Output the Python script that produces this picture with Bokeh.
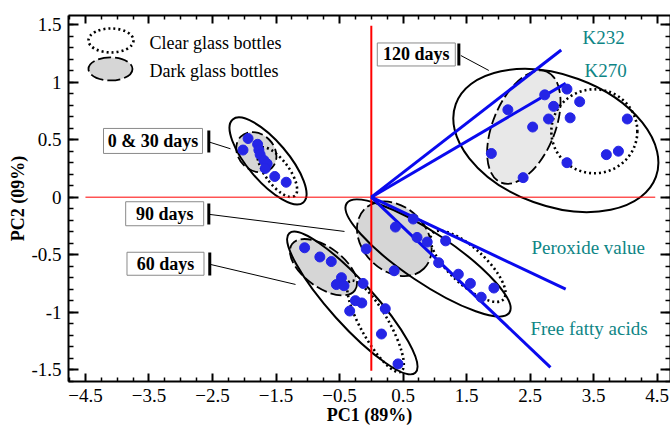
from bokeh.plotting import figure
from bokeh.models import LinearAxis, FixedTicker, CustomJSTickFormatter
from bokeh.core.properties import value
from bokeh.embed import file_html
from bokeh.resources import INLINE

# ---------------- data (PCA scores) ----------------
days_0_30_pc1 = [-1.94, -2.02, -1.79, -1.77, -1.75, -1.69, -1.64, -1.67, -1.52, -1.34]
days_0_30_pc2 = [0.51, 0.41, 0.46, 0.41, 0.37, 0.32, 0.29, 0.25, 0.18, 0.13]
days_60_pc1 = [-1.05, -0.81, -0.63, -0.47, -0.55, -0.43, -0.13, -0.25, -0.15, -0.34, 0.22, 0.16, 0.42]
days_60_pc2 = [-0.44, -0.52, -0.56, -0.70, -0.76, -0.77, -0.75, -0.90, -0.92, -0.99, -0.97, -1.19, -1.45]
days_90_pc1 = [0.38, 0.66, 0.72, 0.88, -0.08, 0.36, 1.17, 1.06, 1.37, 1.56, 1.73, 1.93]
days_90_pc2 = [-0.26, -0.19, -0.35, -0.39, -0.45, -0.64, -0.38, -0.57, -0.67, -0.75, -0.87, -0.79]
days_120_pc1 = [2.15, 1.89, 2.39, 2.54, 2.73, 2.79, 2.87, 3.08, 3.28, 3.13, 3.08, 4.03, 3.70, 3.89]
days_120_pc2 = [0.76, 0.38, 0.17, 0.61, 0.89, 0.68, 0.79, 0.94, 0.83, 0.69, 0.30, 0.68, 0.37, 0.40]

# loadings
loading_names = ["K232", "K270", "Peroxide value", "Free fatty acids"]
loading_pc1 = [2.99, 3.06, 3.06, 2.82]
loading_pc2 = [1.28, 0.99, -0.80, -1.48]

# group labels
group_labels = ["0 & 30 days", "90 days", "60 days", "120 days"]
legend_labels = ["Clear glass bottles", "Dark glass bottles"]

# ticks
x_major = [-4.5, -3.5, -2.5, -1.5, -0.5, 0.5, 1.5, 2.5, 3.5, 4.5]
y_major = [-1.5, -1.0, -0.5, 0.0, 0.5, 1.0, 1.5]
y_tick_labels = ["-1.5", "-1", "-0.5", "0", "0.5", "1", "1.5"]

# ---------------- figure ----------------
FONT = "Liberation Serif"
p = figure(width=670, height=427, x_range=(-4.767, 4.710), y_range=(-1.603, 1.580),
           output_backend="svg", toolbar_location=None,
           min_border_left=68, min_border_right=0, min_border_top=15, min_border_bottom=46)
p.grid.visible = False
p.outline_line_color = None

x_minor = [round(-4.75 + 0.25 * i, 2) for i in range(39)]
x_minor = [t for t in x_minor if t not in x_major]
y_minor = [round(-1.6 + 0.1 * i, 2) for i in range(33)]

def style_axis(ax, ticks, minor, tin, tmin):
    ax.ticker = FixedTicker(ticks=ticks, minor_ticks=minor)
    ax.axis_line_width = 2
    ax.axis_line_color = "black"
    ax.major_tick_in = tin
    ax.major_tick_out = 0
    ax.minor_tick_in = tmin
    ax.minor_tick_out = 0
    ax.major_tick_line_width = 2
    ax.minor_tick_line_width = 1.5
    ax.major_label_text_font = FONT
    ax.major_label_text_font_size = "19px"
    ax.major_label_text_color = "black"

style_axis(p.xaxis[0], x_major, x_minor, 8, 4)
style_axis(p.yaxis[0], y_major, y_minor, 10, 5)
p.yaxis[0].major_label_overrides = {v: t for v, t in zip(y_major, y_tick_labels)}
p.xaxis[0].major_label_standoff = 7
p.yaxis[0].major_label_standoff = 7
for ax, lab in ((p.xaxis[0], "PC1 (89%)"), (p.yaxis[0], "PC2 (09%)")):
    ax.axis_label = lab
    ax.axis_label_text_font = FONT
    ax.axis_label_text_font_style = "bold"
    ax.axis_label_text_font_size = "18px"
    ax.axis_label_text_color = "black"
    ax.axis_label_standoff = 0

top = LinearAxis()
right = LinearAxis()
style_axis(top, x_major, x_minor, 8, 4)
style_axis(right, y_major, y_minor, 10, 5)
for ax in (top, right):
    ax.formatter = CustomJSTickFormatter(code="return ''")
    ax.major_label_standoff = 0
p.add_layout(top, "above")
p.add_layout(right, "right")

# ---------------- ellipses (screen-size) ----------------
GREY = "#d6d6d6"
outer = dict(x=[-1.626, -0.299, 0.893, 2.905], y=[0.315, -0.920, -0.529, 0.493],
             w=[109, 188, 196, 213], h=[40, 44, 50, 131], a=[-49.6, -47.9, -33.9, -20])
dark = dict(x=[-1.81, -0.753, 0.362, 2.401], y=[0.391, -0.609, -0.362, 0.609],
            w=[44, 78, 84, 120], h=[36, 40, 64, 62], a=[-45, -36.4, -45, 67.5],
            c=[GREY, GREY, GREY, "#e8e8e8"])
clear = dict(x=[-1.481, 0.066, 1.522, 3.511], y=[0.217, -1.123, -0.601, 0.573],
             w=[59, 104, 97, 86], h=[24, 28, 36, 84], a=[-53.9, -60.6, -43, 0])

p.ellipse(x=dark["x"], y=dark["y"], width=dark["w"], height=dark["h"], angle=dark["a"],
          width_units="screen", height_units="screen", angle_units="deg",
          fill_color=dark["c"], line_color="black", line_dash="11 4", line_width=1.8)
p.ellipse(x=clear["x"], y=clear["y"], width=clear["w"], height=clear["h"], angle=clear["a"],
          width_units="screen", height_units="screen", angle_units="deg",
          fill_color=None, line_color="black", line_dash="2 3", line_width=2.6)
p.ellipse(x=outer["x"], y=outer["y"], width=outer["w"], height=outer["h"], angle=outer["a"],
          width_units="screen", height_units="screen", angle_units="deg",
          fill_color=None, line_color="black", line_width=2)

# legend
p.ellipse(x=[-4.098], y=[1.363], width=45, height=24, width_units="screen", height_units="screen",
          fill_color=None, line_color="black", line_dash="2 3", line_width=2.6)
p.ellipse(x=[-4.106], y=[1.115], width=44, height=23, width_units="screen", height_units="screen",
          fill_color=GREY, line_color="black", line_dash="13 4", line_width=1.8)
p.text(x=[-3.49, -3.49], y=[1.345, 1.100], text=legend_labels, text_font=value(FONT),
       text_font_size="18px", text_color="black", text_align="left", text_baseline="middle")

# reference axes
p.segment(x0=[-4.5], y0=[0], x1=[4.47], y1=[0], line_color="red", line_width=1)
p.segment(x0=[0], y0=[1.49], x1=[0], y1=[-1.51], line_color="red", line_width=2)

# loadings
n = len(loading_names)
p.segment(x0=[0] * n, y0=[0] * n, x1=loading_pc1, y1=loading_pc2, line_color="#0a0aee", line_width=3)
p.text(x=[3.656, 3.687, 3.415, 3.427], y=[1.393, 1.102, -0.435, -1.146], text=loading_names,
       text_font=value(FONT), text_font_size="19px", text_color="#0e8585",
       text_align="center", text_baseline="middle")

# scores
for xs, ys in ((days_0_30_pc1, days_0_30_pc2), (days_60_pc1, days_60_pc2),
               (days_90_pc1, days_90_pc2), (days_120_pc1, days_120_pc2)):
    p.scatter(xs, ys, size=10, fill_color="#2525e6", line_color="#2525e6")

# group label boxes
bx = [-3.437, -3.253, -3.240, 0.708]
by = [0.489, -0.144, -0.579, 1.241]
bw = [99, 78, 77, 78]
bh = [25, 24, 23, 23]
p.rect(x=bx, y=by, width=bw, height=bh, width_units="screen", height_units="screen",
       fill_color="white", line_color="#8a8a8a", line_width=1)
p.text(x=bx, y=by, text=group_labels, text_font=value(FONT), text_font_style="bold",
       text_font_size="18px", text_color="black", text_align="center", text_baseline="middle")
# black bars next to boxes
p.segment(x0=[-2.558, -2.558, -2.543, 1.378], y0=[0.580, -0.055, -0.481, 1.337],
          x1=[-2.558, -2.558, -2.543, 1.378], y1=[0.389, -0.237, -0.681, 1.145],
          line_color="black", line_width=3)
# leader lines
p.segment(x0=[-2.543, -2.543, -2.532, 1.409], y0=[0.478, -0.150, -0.585, 1.232],
          x1=[-2.217, -0.422, -1.193, 1.850], y1=[0.421, -0.298, -0.759, 1.102],
          line_color="black", line_width=1)

open("out.html", "w").write(file_html(p, INLINE))
